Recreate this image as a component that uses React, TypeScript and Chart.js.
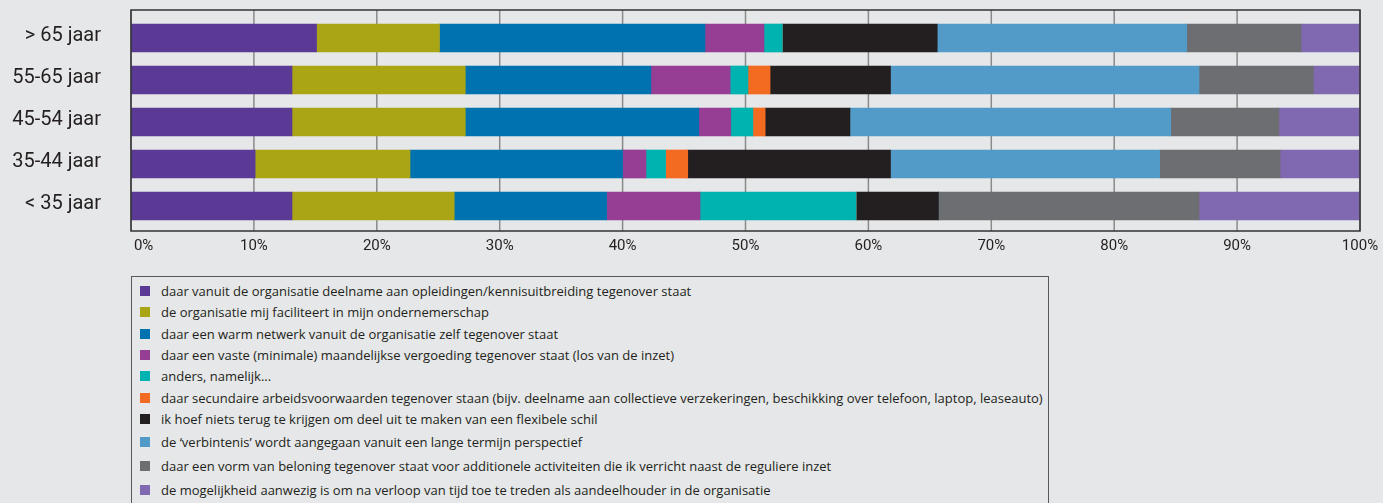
import { useEffect, useRef } from 'react';
import { Chart, registerables } from 'chart.js';

Chart.register(...registerables);

const categories = ['> 65 jaar', '55-65 jaar', '45-54 jaar', '35-44 jaar', '< 35 jaar'];

const seriesLabels = [
  'daar vanuit de organisatie deelname aan opleidingen/kennisuitbreiding tegenover staat',
  'de organisatie mij faciliteert in mijn ondernemerschap',
  'daar een warm netwerk vanuit de organisatie zelf tegenover staat',
  'daar een vaste (minimale) maandelijkse vergoeding tegenover staat (los van de inzet)',
  'anders, namelijk...',
  'daar secundaire arbeidsvoorwaarden tegenover staan (bijv. deelname aan collectieve verzekeringen, beschikking over telefoon, laptop, leaseauto)',
  'ik hoef niets terug te krijgen om deel uit te maken van een flexibele schil',
  'de \u2018verbintenis\u2019 wordt aangegaan vanuit een lange termijn perspectief',
  'daar een vorm van beloning tegenover staat voor additionele activiteiten die ik verricht naast de reguliere inzet',
  'de mogelijkheid aanwezig is om na verloop van tijd toe te treden als aandeelhouder in de organisatie',
];

const seriesColors = [
  '#5b3a96', '#a9a515', '#0072b0', '#963d94', '#00b2b0',
  '#f26b21', '#231f20', '#529bc9', '#6d6e71', '#8069b0',
];

const opleiding = [15.1, 13.1, 13.1, 10.1, 13.1];
const ondernemerschap = [10.0, 14.1, 14.1, 12.6, 13.2];
const warmNetwerk = [21.6, 15.1, 19.0, 17.3, 12.4];
const vasteVergoeding = [4.8, 6.45, 2.6, 1.9, 7.6];
const anders = [1.5, 1.45, 1.8, 1.6, 12.7];
const secundair = [0, 1.8, 1.0, 1.8, 0];
const nietsTerug = [12.6, 9.8, 6.9, 16.5, 6.7];
const langeTermijn = [20.3, 25.1, 26.1, 21.9, 0];
const beloning = [9.3, 9.3, 8.8, 9.8, 21.2];
const aandeelhouder = [4.8, 3.8, 6.6, 6.5, 13.1];

const seriesValues = [
  opleiding, ondernemerschap, warmNetwerk, vasteVergoeding, anders,
  secundair, nietsTerug, langeTermijn, beloning, aandeelhouder,
];

const xTicks = [0, 10, 20, 30, 40, 50, 60, 70, 80, 90, 100];

const FONT = 'Roboto, "Noto Sans", sans-serif';
const LEGEND_FONT = '"Open Sans", Roboto, sans-serif';
const BG = '#e6e7e8';
const CANVAS_H = 262;
const FRAME_TOP = 10;
const FRAME_BOTTOM = 231;
const AREA_TOP = 17;
const AREA_BOTTOM = 227;

// Plot frame and gridlines span a little beyond the category band area.
const framePlugin = {
  id: 'framePlugin',
  beforeDatasetsDraw(chart: any) {
    const { ctx } = chart;
    const xs = chart.scales.x;
    ctx.save();
    ctx.strokeStyle = '#8a8a8a';
    ctx.lineWidth = 1.5;
    xs.ticks.forEach((t: any) => {
      const px = xs.getPixelForValue(t.value);
      ctx.beginPath();
      ctx.moveTo(px, FRAME_TOP);
      ctx.lineTo(px, FRAME_BOTTOM);
      ctx.stroke();
    });
    ctx.restore();
  },
  afterDatasetsDraw(chart: any) {
    const { ctx, chartArea } = chart;
    ctx.save();
    ctx.strokeStyle = '#333333';
    ctx.lineWidth = 1.5;
    ctx.beginPath();
    ctx.moveTo(chartArea.left, FRAME_TOP);
    ctx.lineTo(chartArea.right, FRAME_TOP);
    ctx.lineTo(chartArea.right, FRAME_BOTTOM);
    ctx.lineTo(chartArea.left, FRAME_BOTTOM);
    ctx.closePath();
    ctx.stroke();
    ctx.restore();
  },
};

export default function App() {
  const ref = useRef<HTMLCanvasElement | null>(null);

  useEffect(() => {
    document.body.style.margin = '0';
    document.body.style.background = BG;
    if (!ref.current) return;
    const chart = new Chart(ref.current, {
      type: 'bar',
      data: {
        labels: categories,
        datasets: seriesValues.map((vals, i) => ({
          label: seriesLabels[i],
          data: vals,
          backgroundColor: seriesColors[i],
          borderWidth: 0,
          barThickness: 28,
        })),
      },
      options: {
        indexAxis: 'y',
        animation: false,
        responsive: false,
        maintainAspectRatio: false,
        layout: { padding: { top: AREA_TOP, right: 23, left: 0, bottom: 0 } },
        plugins: { legend: { display: false }, tooltip: { enabled: false } },
        scales: {
          x: {
            type: 'linear',
            stacked: true,
            min: 0,
            max: 100,
            afterBuildTicks: (scale: any) => {
              scale.ticks = xTicks.map((v) => ({ value: v }));
            },
            afterFit: (scale: any) => {
              scale.height = CANVAS_H - AREA_BOTTOM;
              scale.paddingLeft = 0;
              scale.paddingRight = 0;
            },
            ticks: {
              padding: 10,
              color: '#231f20',
              font: { family: FONT, size: 15 },
              callback: (v: any) => (v === 0 ? '\u2007\u2007\u20070%' : v + '%'),
              maxRotation: 0,
            },
            grid: { display: false, drawTicks: false },
            border: { display: false },
          },
          y: {
            type: 'category',
            stacked: true,
            afterFit: (scale: any) => {
              scale.width = 131;
              scale.paddingTop = 0;
              scale.paddingBottom = 0;
            },
            ticks: {
              padding: 30,
              labelOffset: -2,
              color: '#231f20',
              font: { family: FONT, size: 20 },
            },
            grid: { display: false, drawTicks: false },
            border: { display: false },
          },
        },
      },
      plugins: [framePlugin],
    } as any);
    return () => chart.destroy();
  }, []);

  return (
    <div style={{ position: 'relative', width: 1383, height: 503, overflow: 'hidden', background: BG }}>
      <canvas ref={ref} width={1383} height={CANVAS_H} style={{ display: 'block', width: 1383, height: CANVAS_H }} />
      <div
        style={{
          position: 'absolute',
          left: 131,
          top: 276,
          width: 918,
          height: 260,
          boxSizing: 'border-box',
          border: '1px solid #58595b',
          paddingTop: 3.5,
          paddingLeft: 8,
          fontFamily: LEGEND_FONT,
          fontSize: 13,
          color: '#231f20',
        }}
      >
        {seriesLabels.map((label, i) => (
          <div key={i} style={{ display: 'flex', alignItems: 'center', height: i < 7 ? 21.33 : 24, whiteSpace: 'nowrap' }}>
            <span style={{ display: 'inline-block', width: 10, height: 10, background: seriesColors[i], marginRight: 11, flex: 'none' }} />
            <span>{label}</span>
          </div>
        ))}
      </div>
    </div>
  );
}
